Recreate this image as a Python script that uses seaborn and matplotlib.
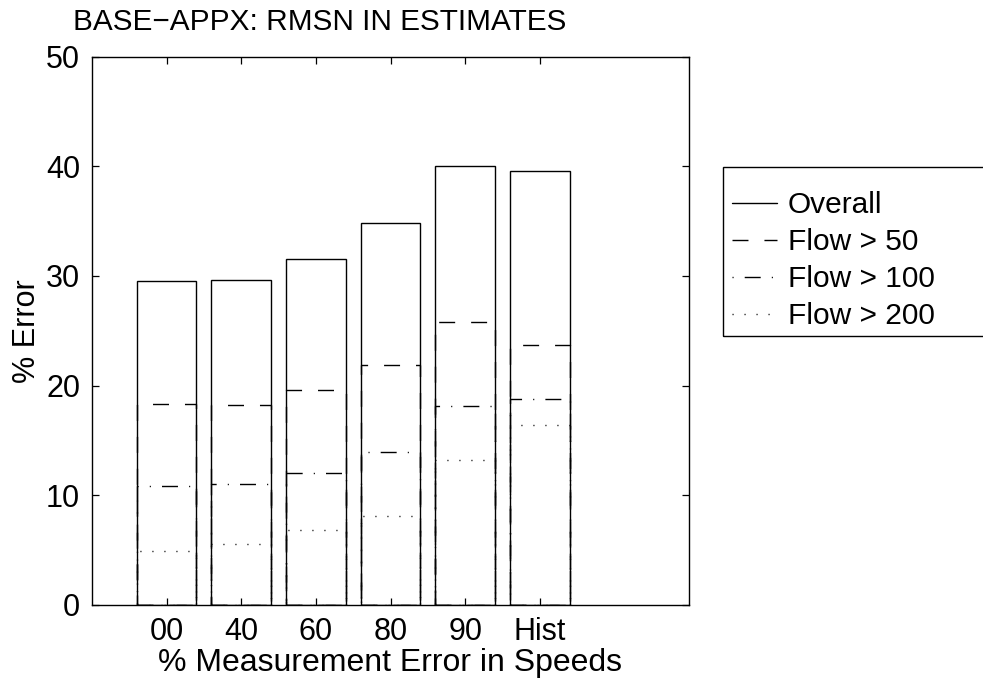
import numpy as np
import pandas as pd
import matplotlib
matplotlib.use("Agg")
import matplotlib.pyplot as plt
import seaborn as sns
from matplotlib.lines import Line2D
from matplotlib.patches import Rectangle

categories = ['00', '40', '60', '80', '90', 'Hist']
overall = [29.5, 29.6, 31.5, 34.8, 40.0, 39.6]
flow50 = [18.35, 18.2, 19.6, 21.9, 25.8, 23.7]
flow100 = [10.85, 11.05, 12.0, 13.95, 18.1, 18.8]
flow200 = [4.9, 5.6, 6.8, 8.1, 13.25, 16.4]
series_names = ['Overall', 'Flow > 50', 'Flow > 100', 'Flow > 200']
y_ticks = [0, 10, 20, 30, 40, 50]

sns.set_theme(style='white')
plt.rcParams['font.family'] = ['Liberation Sans', 'DejaVu Sans']
plt.rcParams['lines.scale_dashes'] = False
for k in ['text.color', 'axes.labelcolor', 'xtick.color', 'ytick.color', 'axes.edgecolor']:
    plt.rcParams[k] = 'black'

df = pd.DataFrame({
    'cat': categories * 4,
    'val': overall + flow50 + flow100 + flow200,
    'series': np.repeat(series_names, len(categories)),
})

styles = ['-', (0, (11.5, 11.5)), (0, (11.5, 8.0, 0.8, 8.0)), (0, (0.8, 7.84))]
legend_styles = ['-', (0, (11.5, 11.5)), (0, (0.8, 8.0, 11.5, 8.0)), (0, (0.8, 7.84))]

fig = plt.figure(figsize=(9.83, 6.89), dpi=100)
ax = fig.add_axes([92 / 983, 1 - 605 / 689, 597 / 983, (605 - 56.5) / 689])

sns.barplot(data=df, x='cat', y='val', hue='series', hue_order=series_names,
            order=categories, dodge=False, fill=False, palette=['black'] * 4,
            width=0.8, errorbar=None, legend=False, ax=ax, linewidth=1.0)

for cont, ls in zip(ax.containers, styles):
    for p in cont.patches:
        p.set_linestyle(ls)
        p.set_edgecolor('black')
        p.set_linewidth(1.0)

ax.set_xlim(-1, 7)
ax.set_ylim(0, 50)
ax.set_yticks(y_ticks)
ax.set_yticklabels([str(t) for t in y_ticks])
ax.set_xlabel('% Measurement Error in Speeds', fontsize=23, labelpad=0)
ax.set_ylabel('% Error', fontsize=22, labelpad=3)
ax.tick_params(axis='both', which='both', direction='in', length=5, width=0.9,
               top=True, right=True, bottom=True, left=True,
               labelsize=22, colors='black')
ax.tick_params(axis='x', pad=9)
ax.tick_params(axis='y', pad=8.6)
for s in ax.spines.values():
    s.set_visible(True)
    s.set_color('black')
    s.set_linewidth(1.0)
ax.grid(False)

fig.text(73 / 983, 1 - 22 / 689, 'BASE\u2212APPX: RMSN IN ESTIMATES', fontsize=21.4,
         ha='left', va='center')

handles = [Line2D([0], [0], color='black', lw=1.0, linestyle=ls) for ls in legend_styles]
fig.add_artist(Rectangle((723 / 983, 1 - 336 / 689), 0.4, (336 - 167) / 689,
                         transform=fig.transFigure, fill=False, edgecolor='black', lw=1.0))
fig.legend(handles, series_names, loc='upper left',
           bbox_to_anchor=(707.5 / 983, 1 - 167 / 689), bbox_transform=fig.transFigure,
           frameon=False, fontsize=21.5, handlelength=1.5, handletextpad=0.37,
           labelspacing=0.3, borderpad=0.82, borderaxespad=0)

fig.savefig('out.png', dpi=100)
